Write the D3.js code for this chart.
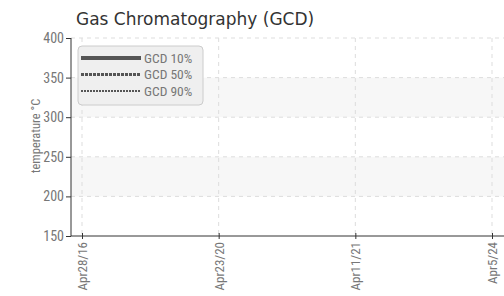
<!DOCTYPE html>
<meta charset="utf-8">
<script src="https://d3js.org/d3.v7.min.js"></script>
<style>
  body { margin: 0; background: #fff; }
  .cond { font-family: "Roboto Condensed", "Liberation Sans Narrow", "DejaVu Sans Condensed", sans-serif; font-stretch: condensed; }
</style>
<div id="my_dataviz"></div>
<script>

// x categories (tick dates) and y ticks
var dates = ["Apr28/16", "Apr23/20", "Apr11/21", "Apr5/24"];
var yTicks = [150, 200, 250, 300, 350, 400];
var bands = [[300, 350], [200, 250]];

// series (no measured points shown in the chart)
var seriesNames = ["GCD 10%", "GCD 50%", "GCD 90%"];
var gcd10 = [];
var gcd50 = [];
var gcd90 = [];

var margin = {top: 38, right: 0, bottom: 60, left: 71},
    width = 504 - margin.left - margin.right,
    height = 296 - margin.top - margin.bottom;

var svg = d3.select("#my_dataviz")
  .append("svg")
    .attr("width", 504)
    .attr("height", 296);

svg.append("text")
  .attr("x", 76)
  .attr("y", 25)
  .style("font-family", "DejaVu Sans, Verdana, sans-serif")
  .style("font-size", "17px")
  .style("fill", "#333")
  .text("Gas Chromatography (GCD)");

var g = svg.append("g")
  .attr("transform", "translate(" + margin.left + "," + margin.top + ")");

var x = d3.scalePoint().domain(dates).range([11, 421]);
var y = d3.scaleLinear().domain([150, 400]).range([height, 0]);

// bands
g.selectAll(".band")
  .data(bands)
  .enter().append("rect")
    .attr("x", 0)
    .attr("width", width)
    .attr("y", function(d) { return y(d[1]); })
    .attr("height", function(d) { return y(d[0]) - y(d[1]); })
    .style("fill", "#f7f7f7");

// grid
g.selectAll(".hgrid")
  .data(yTicks.slice(1))
  .enter().append("line")
    .attr("x1", 0).attr("x2", width)
    .attr("y1", function(d) { return y(d); })
    .attr("y2", function(d) { return y(d); })
    .style("stroke", "#ddd")
    .style("stroke-dasharray", "4,4");

g.selectAll(".vgrid")
  .data(dates)
  .enter().append("line")
    .attr("x1", function(d) { return x(d); })
    .attr("x2", function(d) { return x(d); })
    .attr("y1", 0).attr("y2", height)
    .style("stroke", "#ddd")
    .style("stroke-dasharray", "4,4");

// lines (empty series)
var line = d3.line()
  .x(function(d) { return x(d.date); })
  .y(function(d) { return y(d.value); });
[gcd10, gcd50, gcd90].forEach(function(s) {
  g.append("path").datum(s).attr("d", line)
    .style("fill", "none").style("stroke", "#555");
});

// y axis
var yAxis = g.append("g")
  .attr("class", "cond")
  .call(d3.axisLeft(y).tickValues(yTicks).tickSize(5).tickPadding(2));
yAxis.select(".domain").style("stroke", "#333").attr("d", "M0," + height + "V0");
yAxis.selectAll(".tick line").style("stroke", "#333");
yAxis.selectAll("text").style("font-size", "14px").style("fill", "#777");

// x axis
var xAxis = g.append("g")
  .attr("class", "cond")
  .attr("transform", "translate(0," + height + ")")
  .call(d3.axisBottom(x).tickSize(3).tickPadding(4));
xAxis.select(".domain").style("stroke", "#333").attr("d", "M0,0H" + width);
xAxis.selectAll(".tick line").attr("y1", -3).style("stroke", "#333");
xAxis.selectAll("text")
  .style("font-size", "13px")
  .style("fill", "#777")
  .attr("transform", "rotate(-90)")
  .attr("x", -6)
  .attr("y", 0)
  .attr("dy", "0.35em")
  .style("text-anchor", "end");

// y label
svg.append("text")
  .attr("class", "cond")
  .attr("transform", "translate(40,136) rotate(-90)")
  .style("text-anchor", "middle")
  .style("font-size", "12.5px")
  .style("fill", "#777")
  .text("temperature °C");

// legend
var legend = svg.append("g").attr("transform", "translate(78,46)");
legend.append("rect")
  .attr("width", 125).attr("height", 59)
  .attr("rx", 4)
  .style("fill", "#efefef")
  .style("stroke", "#ccc");

var styles = [
  {w: 4, dash: null},
  {w: 3, dash: "3,1"},
  {w: 2, dash: "2,1"}
];
var items = legend.selectAll(".item")
  .data(seriesNames)
  .enter().append("g")
    .attr("transform", function(d, i) { return "translate(0," + (12 + i * 16.5) + ")"; });
items.append("line")
  .attr("x1", 3).attr("x2", 63)
  .style("stroke", "#555")
  .style("stroke-width", function(d, i) { return styles[i].w; })
  .style("stroke-dasharray", function(d, i) { return styles[i].dash; });
items.append("text")
  .attr("class", "cond")
  .attr("x", 66)
  .attr("dy", "0.35em")
  .style("font-size", "13.5px")
  .style("fill", "#777")
  .text(function(d) { return d; });

</script>
